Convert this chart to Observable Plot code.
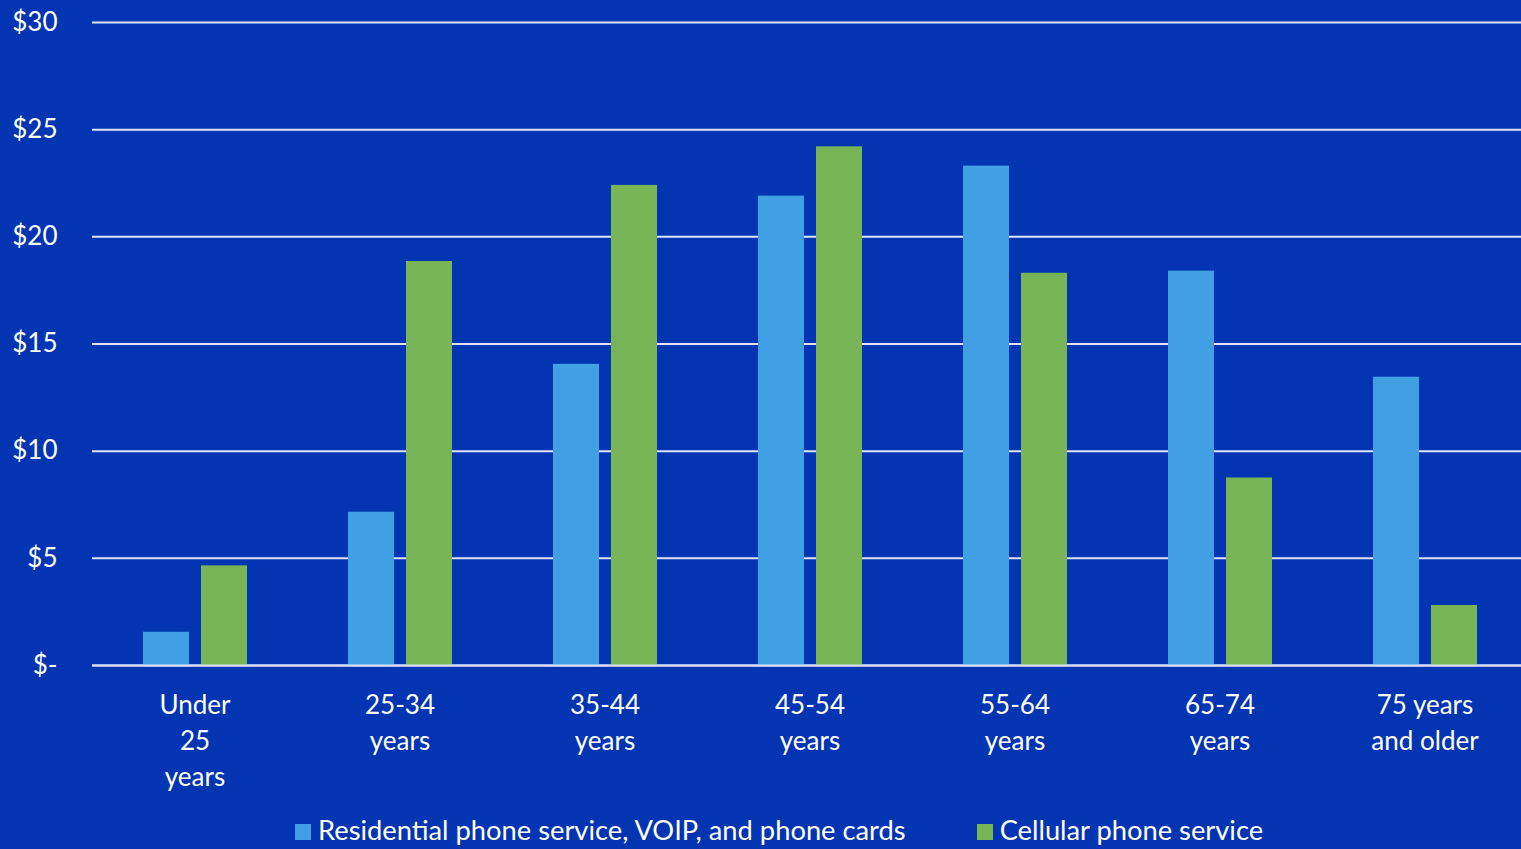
<!DOCTYPE html>
<html>
<head>
<meta charset="utf-8">
<script src="https://cdn.jsdelivr.net/npm/d3@7"></script>
<script src="https://cdn.jsdelivr.net/npm/@observablehq/plot@0.6"></script>
<style>
  html, body { margin: 0; padding: 0; background: #0335b3; width: 1521px; height: 849px; overflow: hidden; }
  #wrap { position: relative; width: 1521px; height: 849px; font-family: Lato, sans-serif; overflow: hidden; }
  #chart svg { max-width: none !important; }
  #legend { position: absolute; left: 295px; top: 813px; display: flex; align-items: center; color: white; font-size: 27.3px; line-height: 34px; white-space: nowrap; }
  .item { display: flex; align-items: center; }
  .sw { width: 16px; height: 16px; margin-right: 7px; margin-top: 4px; }
</style>
</head>
<body>
<div id="wrap">
  <div id="chart"></div>
  <div id="legend"></div>
</div>
<script>
const categories = ["Under\n25\nyears", "25-34\nyears", "35-44\nyears", "45-54\nyears", "55-64\nyears", "65-74\nyears", "75 years\nand older"];
const seriesNames = ["Residential phone service, VOIP, and phone cards", "Cellular phone service"];
const residential = [1.55, 7.15, 14.05, 21.9, 23.3, 18.4, 13.45];
const cellular = [4.65, 18.85, 22.4, 24.2, 18.3, 8.75, 2.8];
const yTicks = [0, 5, 10, 15, 20, 25, 30];
const colors = ["#41a0e4", "#78b557"];

const data = [];
categories.forEach((c, i) => {
  data.push({category: c, series: seriesNames[0], value: residential[i]});
  data.push({category: c, series: seriesNames[1], value: cellular[i]});
});

const chart = Plot.plot({
  width: 1527,
  height: 812,
  marginLeft: 92,
  marginRight: 0,
  marginTop: 22,
  marginBottom: 147,
  style: {background: "transparent", color: "white", fontFamily: "Lato, sans-serif", fontSize: "26px", maxWidth: "none"},
  fx: {domain: categories, padding: 0, label: null},
  x: {domain: seriesNames, paddingInner: 0.207, paddingOuter: 0.862, axis: null},
  y: {domain: [0, 30], label: null},
  color: {domain: seriesNames, range: colors},
  marks: [
    Plot.gridY(yTicks, {stroke: "#dde3f5", strokeOpacity: 1, strokeWidth: 2}),
    Plot.axisY(yTicks, {tickSize: 0, tickPadding: 35, fontSize: 26, tickFormat: d => d === 0 ? "$-" : "$" + d, label: null}),
    Plot.axisFx({anchor: "bottom", tickSize: 0, tickPadding: 23, fontSize: 26, lineHeight: 1.38, label: null}),
    Plot.barY(data, {fx: "category", x: "series", y: "value", fill: "series"}),
    Plot.ruleY([0], {stroke: "#dde3f5", strokeWidth: 2})
  ]
});
chart.style.maxWidth = "none";
document.getElementById("chart").appendChild(chart);

const legend = document.getElementById("legend");
seriesNames.forEach((s, i) => {
  const item = document.createElement("div");
  item.className = "item";
  if (i > 0) item.style.marginLeft = "71px";
  const sw = document.createElement("span");
  sw.className = "sw";
  sw.style.background = colors[i];
  const t = document.createElement("span");
  t.textContent = s;
  item.appendChild(sw);
  item.appendChild(t);
  legend.appendChild(item);
});
</script>
</body>
</html>
